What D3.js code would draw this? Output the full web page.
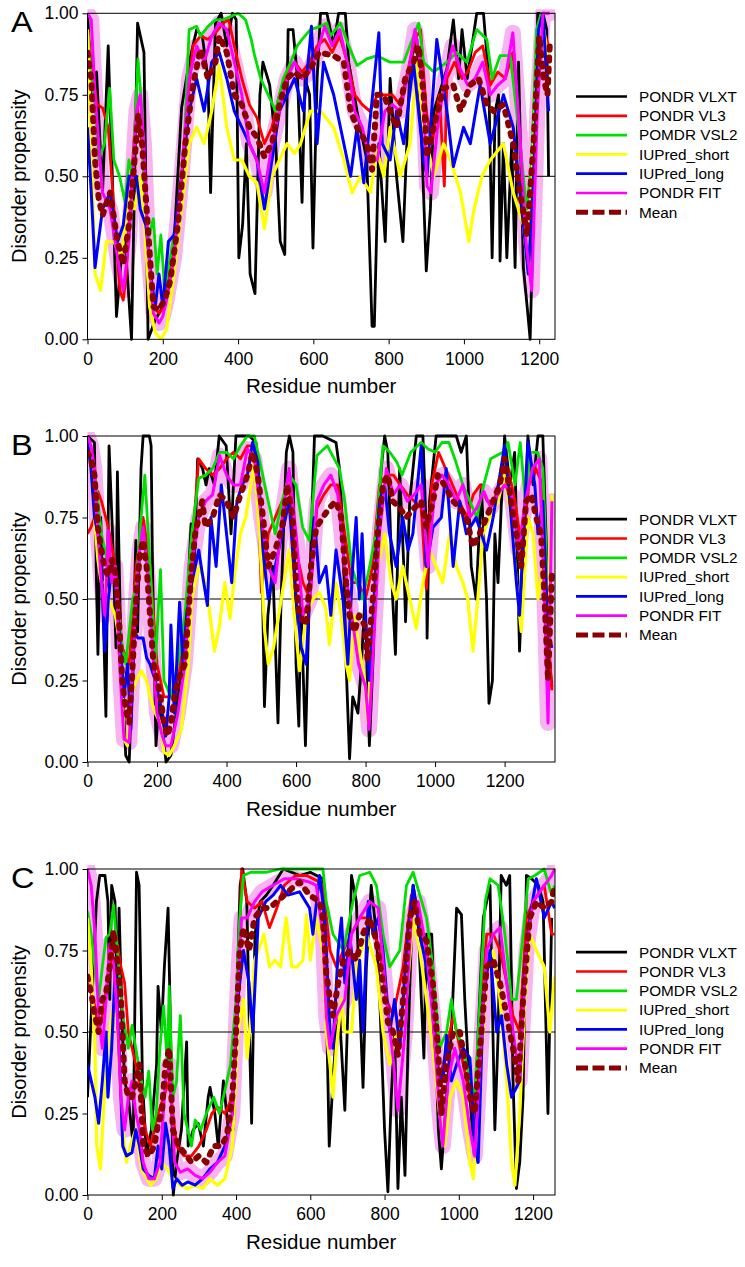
<!DOCTYPE html>
<html><head><meta charset="utf-8">
<script src="https://cdn.jsdelivr.net/npm/d3@7/dist/d3.min.js"></script>
<style>
html,body{margin:0;padding:0;background:#fff;}
svg{display:block;}
</style></head>
<body>
<svg id="chart" width="745" height="1267"></svg>
<script>
// ---------------- DATA ----------------
const seriesNames = ["PONDR VLXT","PONDR VL3","POMDR VSL2","IUPred_short","IUPred_long","PONDR FIT","Mean"];
const yTickValues = [0,0.25,0.5,0.75,1];
const xTickValues = [0,200,400,600,800,1000,1200];
const panelLetters = ["A","B","C"];
const residueMax = [1242,1345,1259];

const A_VLXT=[[0,1.0],[12,0.75],[24,0.82],[40,0.45],[55,0.9],[66,0.5],[77,0.07],[90,0.25],[100,0.3],[117,0.0],[133,0.97],[150,0.88],[161,0.0],[180,0.06],[200,0.1],[215,0.2],[230,0.3],[250,0.71],[270,0.85],[290,0.95],[305,0.93],[320,0.8],[327,0.45],[340,0.97],[355,1.0],[370,0.9],[385,1.0],[395,0.98],[402,0.25],[412,0.35],[422,0.6],[432,0.2],[445,0.14],[458,0.75],[466,0.85],[484,0.78],[500,0.6],[512,0.3],[524,0.26],[533,0.95],[546,0.95],[558,0.8],[570,0.42],[578,0.8],[590,0.75],[599,0.28],[610,0.8],[619,1.0],[636,1.0],[654,0.9],[667,1.0],[685,1.0],[694,0.85],[716,0.7],[742,0.55],[756,0.04],[762,0.04],[774,0.6],[791,0.3],[804,0.8],[821,0.5],[838,0.3],[857,0.85],[875,0.92],[888,0.6],[900,0.21],[911,0.4],[920,0.7],[955,0.83],[972,0.98],[986,0.8],[995,0.95],[1009,0.8],[1034,1.0],[1052,1.0],[1066,0.8],[1075,0.25],[1083,0.7],[1092,0.75],[1096,0.24],[1105,0.6],[1114,0.25],[1127,0.6],[1136,0.22],[1145,0.85],[1158,0.22],[1168,0.1],[1176,0.0],[1189,0.6],[1196,1.0],[1210,1.0],[1220,0.95],[1225,0.5]];
const A_VL3=[[0,0.95],[10,0.85],[25,0.72],[40,0.71],[55,0.65],[70,0.4],[86,0.15],[95,0.12],[103,0.2],[115,0.45],[130,0.73],[145,0.6],[160,0.3],[175,0.1],[190,0.08],[205,0.1],[220,0.2],[240,0.35],[260,0.65],[280,0.9],[300,0.93],[320,0.92],[340,0.94],[360,0.97],[375,0.98],[390,0.9],[410,0.8],[430,0.72],[450,0.68],[470,0.6],[490,0.65],[510,0.75],[530,0.82],[550,0.85],[570,0.82],[590,0.85],[610,0.9],[630,0.92],[650,0.88],[670,0.93],[690,0.85],[710,0.75],[730,0.72],[750,0.7],[770,0.75],[790,0.75],[810,0.75],[830,0.72],[850,0.82],[870,0.92],[885,0.95],[900,0.7],[915,0.6],[935,0.75],[948,0.47],[955,0.8],[975,0.85],[995,0.8],[1010,0.82],[1030,0.88],[1050,0.9],[1070,0.78],[1090,0.82],[1110,0.8],[1130,0.88],[1150,0.6],[1165,0.35],[1180,0.3],[1195,0.75],[1210,0.95],[1225,0.9]];
const A_VSL2=[[0,0.95],[10,0.8],[20,0.72],[30,0.55],[45,0.6],[59,0.77],[70,0.55],[85,0.5],[100,0.42],[110,0.55],[120,0.5],[134,0.86],[145,0.7],[150,0.5],[160,0.3],[175,0.37],[185,0.2],[195,0.32],[205,0.15],[220,0.25],[240,0.4],[255,0.55],[270,0.95],[290,0.96],[300,0.93],[320,0.96],[340,0.98],[360,0.98],[380,0.99],[400,1.0],[420,0.98],[435,0.92],[444,0.87],[460,0.8],[480,0.75],[500,0.7],[520,0.8],[540,0.85],[557,0.9],[570,0.92],[592,0.95],[619,0.96],[636,0.97],[645,0.93],[672,0.97],[694,0.9],[716,0.84],[742,0.86],[769,0.87],[804,0.85],[840,0.85],[866,0.93],[880,0.97],[893,0.85],[920,0.82],[955,0.85],[981,0.88],[1008,0.85],[1034,0.95],[1061,0.92],[1075,0.8],[1096,0.87],[1123,0.87],[1140,0.7],[1158,0.5],[1167,0.4],[1180,0.55],[1193,0.95],[1205,1.0],[1225,1.0]];
const A_SHORT=[[0,0.95],[10,0.6],[20,0.2],[35,0.15],[50,0.3],[70,0.3],[90,0.25],[110,0.45],[125,0.4],[140,0.5],[150,0.38],[165,0.1],[180,0.02],[195,0.0],[210,0.03],[230,0.2],[250,0.4],[270,0.6],[290,0.65],[310,0.6],[330,0.7],[350,0.84],[370,0.65],[390,0.55],[410,0.55],[430,0.5],[450,0.48],[470,0.34],[490,0.5],[510,0.55],[530,0.6],[550,0.57],[566,0.6],[592,0.7],[619,0.7],[654,0.65],[681,0.55],[703,0.45],[725,0.5],[752,0.45],[769,0.58],[787,0.5],[804,0.65],[831,0.5],[857,0.6],[875,0.85],[893,0.65],[920,0.5],[946,0.6],[964,0.55],[991,0.45],[1013,0.3],[1027,0.4],[1048,0.5],[1070,0.55],[1105,0.6],[1131,0.45],[1158,0.35],[1171,0.2],[1185,0.6],[1198,0.9],[1212,0.95],[1225,0.85]];
const A_LONG=[[0,0.65],[10,0.45],[20,0.22],[40,0.4],[60,0.45],[80,0.3],[95,0.35],[110,0.5],[130,0.5],[140,0.4],[155,0.35],[170,0.18],[180,0.1],[190,0.2],[200,0.1],[215,0.3],[230,0.32],[250,0.5],[270,0.7],[290,0.8],[310,0.7],[330,0.85],[350,0.88],[370,0.8],[390,0.7],[410,0.65],[430,0.6],[450,0.55],[470,0.4],[490,0.55],[510,0.7],[530,0.75],[550,0.8],[574,0.7],[595,0.96],[610,0.6],[627,0.85],[654,0.75],[699,0.5],[716,0.65],[734,0.48],[774,0.94],[783,0.6],[804,0.55],[821,0.7],[840,0.6],[866,0.85],[893,0.55],[902,0.5],[928,0.92],[955,0.7],[972,0.53],[999,0.65],[1017,0.6],[1043,0.78],[1070,0.6],[1105,0.75],[1131,0.65],[1158,0.35],[1171,0.2],[1185,0.5],[1198,0.95],[1210,1.0],[1225,0.7]];
const A_FIT=[[0,1.0],[10,0.98],[20,0.75],[40,0.45],[60,0.4],[80,0.25],[95,0.15],[110,0.3],[130,0.7],[140,0.75],[150,0.6],[160,0.3],[175,0.08],[190,0.05],[200,0.07],[210,0.12],[230,0.25],[250,0.5],[270,0.8],[290,0.9],[310,0.85],[330,0.93],[350,0.97],[370,0.95],[390,0.85],[410,0.75],[430,0.6],[450,0.55],[470,0.45],[490,0.6],[510,0.7],[530,0.8],[550,0.85],[570,0.8],[590,0.82],[610,0.88],[630,0.96],[650,0.9],[670,0.95],[690,0.85],[710,0.7],[730,0.65],[750,0.55],[770,0.55],[790,0.7],[810,0.72],[830,0.7],[850,0.8],[870,0.95],[890,0.8],[902,0.47],[912,0.45],[930,0.65],[950,0.8],[970,0.9],[990,0.83],[1010,0.78],[1030,0.8],[1050,0.85],[1070,0.75],[1090,0.78],[1110,0.8],[1130,0.94],[1150,0.6],[1165,0.3],[1180,0.15],[1195,0.7],[1210,1.0],[1228,1.0]];
const A_MEAN=[[0,0.88],[10,0.8],[20,0.55],[30,0.43],[40,0.38],[60,0.45],[80,0.3],[95,0.23],[110,0.35],[125,0.55],[135,0.69],[145,0.6],[160,0.35],[175,0.1],[190,0.09],[205,0.12],[220,0.18],[240,0.35],[260,0.6],[280,0.78],[300,0.89],[320,0.8],[340,0.85],[350,0.93],[370,0.88],[390,0.75],[410,0.72],[430,0.65],[450,0.62],[470,0.56],[490,0.6],[510,0.72],[530,0.8],[550,0.82],[570,0.8],[592,0.83],[615,0.88],[654,0.87],[681,0.85],[699,0.7],[716,0.65],[742,0.6],[756,0.52],[769,0.75],[787,0.75],[804,0.7],[821,0.65],[844,0.8],[866,0.85],[880,0.9],[893,0.75],[902,0.56],[920,0.65],[946,0.77],[972,0.78],[991,0.7],[1017,0.78],[1039,0.8],[1061,0.72],[1079,0.7],[1105,0.72],[1131,0.6],[1149,0.45],[1168,0.32],[1185,0.6],[1200,0.93],[1212,0.8],[1222,0.75],[1228,0.9]];

const B_VLXT=[[0,1.0],[20,0.98],[25,0.6],[30,0.33],[38,0.75],[53,0.14],[62,0.97],[72,0.7],[82,0.35],[86,0.89],[96,0.35],[110,0.02],[120,0.0],[130,0.3],[139,0.68],[144,0.4],[154,0.9],[160,1.0],[178,1.0],[183,0.97],[187,0.6],[197,0.05],[207,0.2],[216,0.1],[226,0.0],[240,0.02],[255,0.15],[283,0.4],[298,0.73],[307,0.6],[317,0.93],[331,0.9],[341,0.85],[350,0.9],[365,0.85],[379,1.0],[399,0.97],[413,0.7],[427,1.0],[466,1.0],[485,0.98],[504,0.5],[509,0.17],[519,0.45],[533,0.6],[548,0.12],[557,0.5],[572,0.95],[581,1.0],[591,0.95],[600,0.3],[608,0.11],[614,0.5],[627,0.05],[638,0.5],[653,1.0],[677,1.0],[715,0.98],[725,0.9],[735,0.7],[744,0.3],[754,0.01],[763,0.2],[778,0.15],[788,0.3],[798,0.5],[811,0.05],[821,0.3],[830,0.6],[845,0.9],[855,1.0],[864,0.95],[878,0.5],[886,0.33],[898,0.9],[912,0.55],[915,0.43],[927,0.8],[946,1.0],[965,1.0],[975,0.7],[977,0.38],[984,0.8],[1003,1.0],[1061,1.0],[1075,0.95],[1090,1.0],[1104,0.6],[1118,0.5],[1133,0.85],[1148,0.5],[1155,0.18],[1165,0.25],[1172,0.7],[1181,0.55],[1191,0.8],[1200,1.0],[1215,0.85],[1229,0.95],[1243,0.34],[1253,0.6],[1267,1.0],[1282,0.85],[1296,1.0],[1310,1.0],[1322,0.6],[1330,0.3],[1336,0.23]];
const B_VL3=[[0,0.7],[10,0.72],[20,0.75],[30,0.83],[40,0.8],[60,0.72],[80,0.6],[100,0.35],[120,0.3],[140,0.6],[160,0.75],[180,0.6],[200,0.3],[220,0.2],[240,0.2],[260,0.25],[280,0.4],[300,0.65],[320,0.93],[340,0.9],[360,0.88],[380,0.9],[400,0.93],[420,0.95],[440,0.93],[460,0.97],[480,0.97],[492,0.8],[500,0.52],[520,0.7],[540,0.75],[560,0.8],[580,0.85],[600,0.65],[620,0.55],[640,0.5],[660,0.78],[680,0.82],[700,0.85],[720,0.85],[740,0.7],[760,0.55],[780,0.55],[800,0.5],[820,0.6],[840,0.85],[860,0.88],[880,0.88],[900,0.85],[920,0.82],[940,0.8],[960,0.78],[975,0.53],[990,0.85],[1010,0.95],[1030,0.9],[1050,0.85],[1070,0.8],[1090,0.75],[1110,0.82],[1130,0.85],[1150,0.8],[1170,0.8],[1190,0.88],[1210,0.9],[1230,0.8],[1250,0.65],[1270,0.85],[1290,0.9],[1310,0.85],[1325,0.4],[1336,0.22]];
const B_VSL2=[[0,0.97],[20,0.9],[40,0.7],[60,0.6],[80,0.55],[100,0.35],[110,0.3],[130,0.5],[140,0.53],[150,0.7],[165,0.88],[180,0.6],[195,0.3],[210,0.59],[220,0.25],[240,0.2],[260,0.3],[280,0.45],[300,0.7],[320,0.87],[340,0.88],[360,0.9],[380,0.95],[400,0.95],[420,0.93],[440,0.97],[460,1.0],[480,1.0],[500,0.9],[520,0.8],[540,0.7],[560,0.8],[580,0.88],[600,0.85],[619,0.72],[638,0.68],[660,0.94],[690,0.97],[710,0.93],[725,0.9],[740,0.8],[760,0.6],[790,0.5],[806,0.57],[830,0.7],[850,0.97],[870,0.95],[890,0.92],[905,0.88],[930,0.95],[960,0.98],[980,0.96],[1000,0.95],[1020,0.98],[1040,0.98],[1060,0.92],[1080,0.85],[1100,0.8],[1120,0.75],[1140,0.85],[1160,0.93],[1195,0.95],[1210,0.98],[1230,0.85],[1245,0.98],[1260,0.8],[1275,0.95],[1295,0.95],[1310,0.9],[1325,0.5],[1336,0.45]];
const B_SHORT=[[0,0.98],[10,0.9],[20,0.75],[30,0.62],[40,0.55],[50,0.55],[60,0.5],[80,0.45],[95,0.35],[105,0.07],[115,0.05],[125,0.2],[140,0.25],[155,0.28],[170,0.25],[180,0.2],[195,0.15],[210,0.12],[220,0.03],[235,0.02],[250,0.05],[270,0.1],[290,0.3],[300,0.5],[320,0.6],[340,0.55],[350,0.47],[365,0.34],[380,0.42],[395,0.55],[410,0.44],[425,0.59],[440,0.7],[455,0.75],[470,0.85],[480,0.92],[495,0.7],[510,0.4],[520,0.3],[535,0.35],[550,0.45],[565,0.55],[580,0.65],[595,0.45],[610,0.28],[629,0.45],[648,0.5],[667,0.52],[686,0.47],[696,0.36],[715,0.55],[730,0.45],[744,0.3],[754,0.25],[768,0.45],[782,0.35],[797,0.25],[806,0.12],[821,0.45],[835,0.6],[855,0.7],[874,0.55],[888,0.5],[907,0.6],[927,0.5],[946,0.41],[965,0.55],[984,0.65],[1003,0.6],[1022,0.55],[1042,0.7],[1061,0.6],[1080,0.55],[1094,0.5],[1109,0.34],[1123,0.5],[1138,0.7],[1157,0.75],[1181,0.8],[1200,0.88],[1219,0.75],[1234,0.55],[1248,0.4],[1267,0.75],[1282,0.7],[1296,0.5],[1310,0.6],[1325,0.45],[1336,0.82]];
const B_LONG=[[0,0.98],[10,0.9],[20,0.75],[30,0.7],[40,0.6],[50,0.34],[60,0.5],[70,0.6],[80,0.55],[95,0.35],[105,0.2],[115,0.3],[125,0.1],[135,0.4],[145,0.38],[160,0.38],[170,0.32],[180,0.3],[195,0.25],[205,0.2],[215,0.15],[225,0.08],[235,0.2],[240,0.42],[250,0.15],[265,0.49],[275,0.3],[285,0.45],[300,0.55],[320,0.65],[330,0.58],[345,0.48],[355,0.75],[370,0.6],[385,0.85],[400,0.7],[415,0.55],[430,0.8],[445,0.85],[460,0.88],[475,0.98],[490,0.92],[505,0.65],[520,0.5],[540,0.6],[560,0.7],[580,0.8],[600,0.5],[615,0.35],[629,0.3],[638,0.5],[653,0.75],[667,0.55],[686,0.6],[700,0.45],[715,0.65],[735,0.5],[749,0.3],[763,0.6],[773,0.75],[782,0.5],[790,0.7],[802,0.4],[811,0.25],[830,0.6],[840,0.8],[855,0.85],[869,0.7],[888,0.6],[907,0.75],[922,0.65],[936,0.7],[960,0.97],[975,0.6],[994,0.72],[1018,0.75],[1032,0.9],[1052,0.6],[1071,0.8],[1090,0.7],[1118,0.75],[1148,0.65],[1167,0.75],[1200,0.97],[1219,0.75],[1234,0.55],[1243,0.45],[1267,0.98],[1287,0.85],[1296,0.7],[1310,0.8],[1325,0.4],[1336,0.35]];
const B_FIT=[[0,1.0],[10,0.97],[20,0.9],[30,0.7],[40,0.55],[50,0.45],[60,0.71],[70,0.55],[80,0.6],[95,0.25],[105,0.07],[120,0.06],[130,0.3],[140,0.5],[150,0.65],[160,0.72],[175,0.55],[190,0.3],[200,0.15],[215,0.08],[225,0.05],[240,0.05],[260,0.15],[280,0.3],[300,0.6],[320,0.75],[340,0.8],[360,0.82],[380,0.94],[400,0.88],[420,0.85],[440,0.85],[460,0.96],[480,0.93],[500,0.75],[520,0.6],[540,0.55],[560,0.75],[580,0.9],[600,0.7],[620,0.45],[640,0.5],[660,0.8],[680,0.85],[700,0.88],[720,0.82],[740,0.6],[760,0.45],[780,0.3],[800,0.23],[810,0.1],[820,0.3],[840,0.7],[860,0.9],[880,0.82],[900,0.85],[920,0.8],[940,0.82],[960,0.85],[980,0.6],[1000,0.85],[1020,0.88],[1040,0.85],[1060,0.8],[1080,0.85],[1100,0.75],[1120,0.78],[1140,0.83],[1160,0.78],[1180,0.82],[1200,0.85],[1220,0.82],[1240,0.65],[1260,0.8],[1280,0.9],[1300,0.93],[1315,0.5],[1325,0.12],[1336,0.8]];
const B_MEAN=[[0,0.95],[10,0.93],[20,0.88],[30,0.72],[40,0.65],[50,0.59],[60,0.57],[70,0.62],[80,0.58],[90,0.45],[100,0.25],[110,0.16],[120,0.12],[130,0.3],[140,0.5],[150,0.63],[160,0.68],[170,0.6],[180,0.45],[190,0.3],[200,0.25],[210,0.2],[220,0.12],[230,0.08],[240,0.12],[250,0.2],[260,0.25],[280,0.3],[300,0.6],[310,0.7],[320,0.75],[330,0.8],[340,0.72],[360,0.75],[380,0.82],[400,0.8],[420,0.75],[440,0.82],[460,0.88],[475,0.95],[490,0.88],[505,0.75],[520,0.6],[540,0.65],[560,0.72],[575,0.85],[590,0.75],[600,0.55],[610,0.45],[629,0.42],[643,0.6],[658,0.72],[677,0.75],[696,0.78],[715,0.8],[730,0.75],[744,0.55],[754,0.45],[768,0.4],[782,0.45],[797,0.42],[806,0.31],[821,0.5],[835,0.7],[850,0.85],[864,0.88],[878,0.8],[898,0.78],[917,0.75],[941,0.78],[960,0.8],[975,0.72],[994,0.8],[1008,0.88],[1027,0.85],[1052,0.8],[1071,0.78],[1090,0.75],[1109,0.66],[1128,0.7],[1148,0.75],[1167,0.8],[1186,0.85],[1200,0.93],[1219,0.8],[1234,0.7],[1248,0.6],[1262,0.8],[1277,0.82],[1291,0.75],[1305,0.7],[1315,0.5],[1325,0.25],[1336,0.58]];

const C_VLXT=[[0,0.3],[10,0.55],[24,0.9],[33,0.98],[47,0.98],[55,0.9],[60,0.6],[65,0.95],[74,0.9],[80,0.6],[85,0.88],[94,0.5],[100,0.35],[110,0.3],[123,0.15],[132,0.99],[139,0.95],[148,0.35],[159,0.12],[172,0.2],[186,0.4],[190,0.64],[199,0.5],[207,0.7],[217,0.88],[222,0.6],[231,0.0],[240,0.1],[253,0.2],[267,0.47],[271,0.15],[285,0.2],[298,0.22],[312,0.15],[325,0.3],[330,0.33],[343,0.25],[352,0.15],[366,0.35],[379,0.2],[393,0.2],[402,0.6],[411,0.95],[418,1.0],[429,0.9],[438,0.4],[442,0.22],[451,0.8],[465,0.9],[482,0.92],[500,0.95],[527,1.0],[572,0.98],[600,0.99],[634,0.97],[643,0.6],[651,0.15],[661,0.35],[670,0.5],[679,0.55],[693,0.26],[702,0.6],[711,0.98],[724,0.9],[733,0.6],[742,0.33],[751,0.7],[764,0.95],[778,0.8],[787,0.6],[800,0.2],[809,0.01],[818,0.3],[827,0.5],[836,0.02],[845,0.3],[855,0.06],[864,0.5],[877,0.95],[890,0.85],[899,0.6],[906,0.42],[913,0.8],[927,0.8],[936,0.5],[945,0.2],[953,0.08],[967,0.3],[980,0.5],[994,0.88],[1007,0.86],[1016,0.6],[1030,0.3],[1043,0.1],[1052,0.5],[1066,0.85],[1084,0.95],[1097,0.2],[1106,0.5],[1114,0.98],[1128,0.95],[1137,0.98],[1146,0.35],[1155,0.02],[1164,0.1],[1173,0.3],[1182,0.98],[1196,0.97],[1214,0.95],[1227,0.9],[1240,0.25],[1250,0.85]];
const C_VL3=[[0,0.65],[10,0.62],[20,0.58],[30,0.5],[40,0.55],[60,0.7],[75,0.81],[90,0.7],[100,0.65],[110,0.5],[120,0.45],[140,0.35],[155,0.2],[170,0.15],[190,0.25],[205,0.3],[220,0.35],[240,0.15],[260,0.12],[280,0.12],[300,0.15],[320,0.2],[335,0.25],[350,0.27],[370,0.25],[390,0.3],[405,0.6],[415,1.0],[430,0.9],[450,0.88],[470,0.9],[490,0.82],[510,0.88],[530,0.95],[560,0.98],[590,0.98],[625,0.96],[634,0.95],[653,0.75],[670,0.7],[689,0.75],[711,0.8],[733,0.85],[760,0.85],[787,0.75],[805,0.6],[823,0.55],[850,0.7],[872,0.92],[895,0.85],[922,0.7],[948,0.35],[967,0.45],[985,0.55],[1003,0.45],[1021,0.35],[1039,0.25],[1057,0.55],[1075,0.8],[1093,0.8],[1111,0.75],[1129,0.65],[1146,0.55],[1164,0.5],[1182,0.85],[1200,0.9],[1230,0.95],[1250,0.8],[1258,0.8]];
const C_VSL2=[[0,0.87],[10,0.8],[20,0.7],[30,0.6],[40,0.7],[50,0.79],[60,0.8],[70,0.89],[80,0.75],[95,0.55],[110,0.45],[120,0.52],[130,0.45],[145,0.35],[155,0.3],[165,0.38],[175,0.2],[185,0.25],[195,0.45],[205,0.58],[215,0.4],[220,0.64],[230,0.3],[240,0.35],[250,0.55],[260,0.25],[280,0.15],[290,0.23],[305,0.2],[320,0.25],[340,0.3],[355,0.25],[370,0.32],[385,0.4],[400,0.6],[410,0.85],[420,0.98],[440,0.99],[480,0.99],[520,1.0],[634,1.0],[643,0.9],[661,0.8],[689,0.75],[715,0.9],[733,0.98],[760,0.99],[778,0.95],[796,0.8],[814,0.7],[841,0.75],[859,0.95],[877,0.99],[895,0.92],[913,0.85],[930,0.7],[948,0.45],[967,0.5],[980,0.6],[994,0.5],[1012,0.45],[1030,0.35],[1043,0.3],[1057,0.6],[1071,0.9],[1084,0.97],[1106,0.95],[1124,0.8],[1142,0.6],[1155,0.6],[1173,0.8],[1187,0.97],[1205,0.98],[1230,1.0],[1250,0.92],[1258,0.95]];
const C_SHORT=[[0,0.85],[10,0.7],[20,0.45],[25,0.15],[35,0.08],[45,0.3],[55,0.45],[65,0.55],[75,0.6],[85,0.4],[95,0.2],[105,0.1],[115,0.15],[130,0.2],[145,0.08],[160,0.05],[170,0.03],[185,0.05],[200,0.1],[215,0.08],[230,0.05],[250,0.03],[270,0.02],[290,0.03],[310,0.02],[330,0.05],[350,0.03],[370,0.05],[390,0.15],[405,0.5],[420,0.6],[430,0.42],[440,0.55],[450,0.72],[460,0.75],[475,0.8],[490,0.7],[505,0.72],[520,0.7],[535,0.85],[550,0.7],[565,0.7],[580,0.72],[590,0.86],[600,0.72],[616,0.85],[634,0.75],[643,0.5],[653,0.4],[661,0.3],[670,0.45],[684,0.6],[693,0.5],[711,0.5],[724,0.7],[751,0.8],[778,0.7],[796,0.5],[814,0.4],[832,0.5],[855,0.55],[877,0.85],[895,0.75],[913,0.6],[930,0.45],[948,0.25],[962,0.15],[976,0.3],[994,0.35],[1012,0.3],[1030,0.1],[1039,0.05],[1057,0.35],[1075,0.7],[1093,0.75],[1111,0.6],[1129,0.35],[1142,0.1],[1151,0.03],[1164,0.25],[1178,0.6],[1191,0.8],[1209,0.75],[1230,0.7],[1245,0.5],[1258,0.67]];
const C_LONG=[[0,0.4],[10,0.35],[20,0.3],[30,0.22],[40,0.35],[50,0.5],[55,0.3],[65,0.45],[75,0.7],[85,0.45],[95,0.15],[105,0.12],[120,0.13],[130,0.2],[140,0.15],[150,0.08],[165,0.06],[180,0.05],[190,0.15],[200,0.08],[210,0.22],[220,0.15],[230,0.02],[240,0.05],[255,0.03],[270,0.04],[290,0.03],[310,0.05],[330,0.08],[350,0.1],[370,0.15],[390,0.25],[405,0.6],[420,0.75],[435,0.65],[445,0.5],[460,0.85],[480,0.9],[500,0.92],[520,0.95],[540,0.92],[571,0.93],[598,0.88],[607,0.8],[625,0.98],[639,0.85],[653,0.5],[661,0.45],[675,0.75],[684,0.85],[693,0.65],[706,0.8],[724,0.6],[733,0.72],[742,0.5],[756,0.9],[769,0.8],[783,0.85],[796,0.75],[814,0.5],[827,0.6],[841,0.45],[859,0.75],[877,0.95],[895,0.8],[913,0.7],[927,0.6],[940,0.4],[957,0.35],[967,0.49],[980,0.35],[994,0.4],[1012,0.45],[1030,0.42],[1043,0.15],[1052,0.1],[1066,0.6],[1084,0.75],[1102,0.5],[1115,0.55],[1129,0.4],[1142,0.3],[1164,0.35],[1178,0.7],[1191,0.85],[1209,0.97],[1230,0.85],[1250,0.9],[1258,0.88]];
const C_FIT=[[0,1.0],[10,0.95],[20,0.8],[30,0.55],[40,0.45],[50,0.6],[60,0.77],[70,0.72],[80,0.55],[90,0.3],[100,0.2],[110,0.3],[120,0.35],[130,0.25],[140,0.2],[150,0.1],[165,0.05],[180,0.05],[195,0.1],[210,0.35],[220,0.4],[235,0.1],[250,0.07],[270,0.08],[290,0.06],[310,0.05],[330,0.07],[350,0.1],[370,0.12],[390,0.25],[405,0.65],[415,0.85],[430,0.85],[450,0.9],[470,0.93],[500,0.95],[530,0.97],[560,0.97],[598,0.96],[616,0.95],[634,0.8],[643,0.55],[653,0.45],[670,0.55],[693,0.6],[711,0.8],[733,0.85],[760,0.9],[783,0.88],[805,0.6],[823,0.42],[836,0.26],[855,0.5],[872,0.85],[890,0.9],[913,0.75],[930,0.55],[948,0.25],[957,0.15],[971,0.35],[989,0.45],[1012,0.35],[1030,0.2],[1043,0.12],[1057,0.4],[1075,0.75],[1093,0.8],[1111,0.82],[1129,0.65],[1146,0.5],[1164,0.35],[1182,0.75],[1200,0.9],[1230,0.95],[1250,0.98],[1258,1.0]];
const C_MEAN=[[0,0.67],[10,0.62],[20,0.55],[30,0.5],[40,0.6],[50,0.62],[60,0.7],[70,0.81],[80,0.72],[90,0.6],[100,0.35],[110,0.3],[120,0.3],[130,0.35],[140,0.4],[150,0.15],[165,0.12],[180,0.15],[190,0.22],[200,0.25],[210,0.4],[220,0.45],[230,0.2],[245,0.15],[260,0.13],[280,0.1],[300,0.12],[320,0.1],[340,0.15],[360,0.15],[375,0.18],[390,0.3],[400,0.5],[410,0.75],[420,0.82],[435,0.75],[450,0.85],[470,0.88],[490,0.88],[510,0.9],[530,0.92],[550,0.94],[571,0.96],[598,0.92],[625,0.9],[634,0.85],[643,0.68],[653,0.6],[661,0.55],[675,0.65],[689,0.72],[706,0.75],[724,0.72],[742,0.8],[760,0.85],[778,0.78],[796,0.65],[809,0.53],[823,0.5],[836,0.43],[850,0.6],[868,0.85],[881,0.9],[895,0.8],[913,0.78],[930,0.65],[944,0.45],[953,0.25],[967,0.4],[985,0.5],[1003,0.5],[1017,0.4],[1030,0.3],[1043,0.25],[1057,0.45],[1075,0.7],[1093,0.72],[1111,0.65],[1129,0.55],[1146,0.45],[1160,0.35],[1173,0.6],[1191,0.85],[1209,0.9],[1230,0.88],[1250,0.9],[1258,0.95]];

const panelSeries = [
  [A_VLXT,A_VL3,A_VSL2,A_SHORT,A_LONG,A_FIT,A_MEAN],
  [B_VLXT,B_VL3,B_VSL2,B_SHORT,B_LONG,B_FIT,B_MEAN],
  [C_VLXT,C_VL3,C_VSL2,C_SHORT,C_LONG,C_FIT,C_MEAN]
];

// ---------------- STYLE / LAYOUT ----------------
const colors = ["#000000","#ff0000","#00e000","#ffff00","#0000ff","#ff00ff","#8b0000"];
const widths = [2.8,2.8,2.8,3.2,3,3,6];
const plotLeft = 87.5, plotRight = 555;
const plotTops = [13.3, 436, 869];
const plotH = 326;
const fitBandColor = "#f6b4f1";

const svg = d3.select("#chart");

panelLetters.forEach((letter, pi) => {
  const top = plotTops[pi], bottom = top + plotH;
  const x = d3.scaleLinear().domain([0, residueMax[pi]]).range([plotLeft, plotRight]);
  const y = d3.scaleLinear().domain([0, 1]).range([bottom, top]);
  const g = svg.append("g");

  const clipId = "clip" + pi;
  svg.append("clipPath").attr("id", clipId).append("rect")
    .attr("x", plotLeft).attr("y", top - 4).attr("width", plotRight - plotLeft).attr("height", plotH + 8);

  const line = d3.line().x(d => x(d[0])).y(d => y(d[1]));
  const series = panelSeries[pi];
  const lg = g.append("g").attr("clip-path", `url(#${clipId})`);

  // FIT error band (wide pale stroke)
  lg.append("path").attr("d", line(series[5])).attr("fill", "none")
    .attr("stroke", fitBandColor).attr("stroke-width", 16).attr("stroke-linejoin", "round").attr("stroke-linecap", "round");

  // 0.5 reference line
  lg.append("line").attr("x1", plotLeft).attr("x2", plotRight).attr("y1", y(0.5)).attr("y2", y(0.5))
    .attr("stroke", "#000").attr("stroke-width", 1);

  series.forEach((s, si) => {
    const p = lg.append("path").attr("d", line(s)).attr("fill", "none")
      .attr("stroke", colors[si]).attr("stroke-width", widths[si]).attr("stroke-linejoin", "round");
    if (si === 6) p.attr("stroke-dasharray", "3,8").attr("stroke-linecap", "round");
  });

  // box
  g.append("rect").attr("x", plotLeft).attr("y", top).attr("width", plotRight - plotLeft).attr("height", plotH)
    .attr("fill", "none").attr("stroke", "#000").attr("stroke-width", 1);

  // axes
  const yAxis = d3.axisLeft(y).tickValues(yTickValues).tickFormat(d3.format(".2f")).tickSize(5).tickPadding(4);
  const ya = g.append("g").attr("transform", `translate(${plotLeft},0)`).call(yAxis);
  const xAxis = d3.axisBottom(x).tickValues(xTickValues).tickFormat(d3.format("d")).tickSize(5).tickPadding(8);
  const xa = g.append("g").attr("transform", `translate(0,${bottom})`).call(xAxis);
  [ya, xa].forEach(a => {
    a.select(".domain").remove();
    a.selectAll("text").attr("font-family", "Liberation Sans, Arial, sans-serif").attr("font-size", 17.5).attr("fill", "#000");
    a.selectAll("line").attr("stroke", "#000");
  });

  // titles
  g.append("text").attr("x", plotLeft + (plotRight - plotLeft) / 2).attr("y", bottom + 54)
    .attr("text-anchor", "middle").attr("font-family", "Liberation Sans, Arial, sans-serif").attr("font-size", 20.5)
    .text("Residue number");
  g.append("text").attr("transform", `translate(26,${top + plotH / 2}) rotate(-90)`)
    .attr("text-anchor", "middle").attr("font-family", "Liberation Sans, Arial, sans-serif").attr("font-size", 20)
    .text("Disorder propensity");
  g.append("text").attr("x", 11).attr("y", top + 19).attr("font-family", "Liberation Sans, Arial, sans-serif")
    .attr("font-size", 29).attr("transform-origin", `11px ${top + 19}px`).attr("transform", "scale(1.12,1)").text(letter);

  // legend
  const legY0 = top + 83.2, legStep = 19.3;
  seriesNames.forEach((name, si) => {
    const ly = legY0 + si * legStep;
    const l = g.append("line").attr("x1", 576).attr("x2", 627).attr("y1", ly).attr("y2", ly)
      .attr("stroke", colors[si]).attr("stroke-width", si === 6 ? 5 : 2.7);
    if (si === 6) l.attr("stroke-dasharray", "12,4.5");
    g.append("text").attr("x", 639).attr("y", ly + 5.3).attr("font-family", "Liberation Sans, Arial, sans-serif")
      .attr("font-size", 15.3).attr("fill", "#000").text(name);
  });
});
</script>
</body></html>
